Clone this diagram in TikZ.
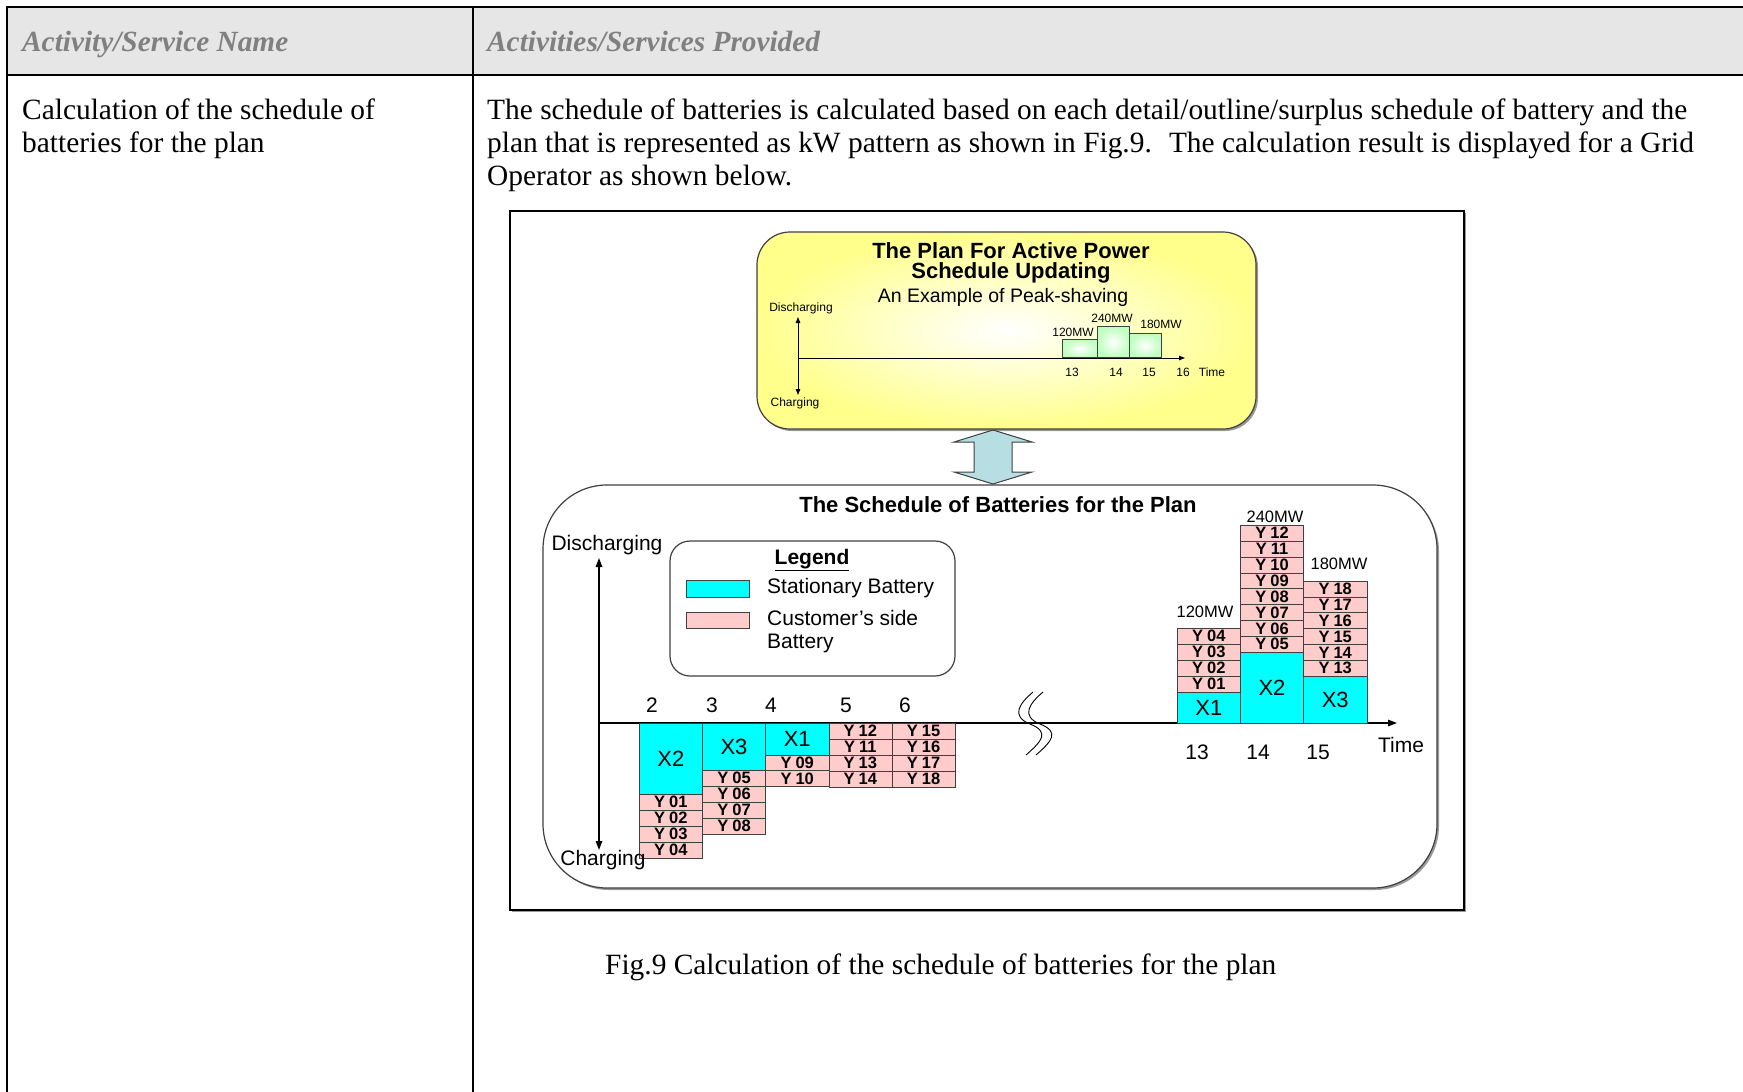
\documentclass[tikz,border=0pt]{standalone}
\usepackage{fontspec}
\setmainfont{Liberation Serif}
\setsansfont{Liberation Sans}
\usepackage{xcolor}
\usepackage{tikz}
\usetikzlibrary{arrows.meta, shadows}
\definecolor{hdrfill}{HTML}{E6E6E6}
\definecolor{hdrtext}{HTML}{808080}
\definecolor{boxline}{HTML}{404040}
\definecolor{stcyan}{HTML}{00FFFF}
\definecolor{cspink}{HTML}{FFCCCC}
\definecolor{planyel}{HTML}{FFFF8C}
\definecolor{bargreen}{HTML}{BFFFBF}
\definecolor{arrblue}{HTML}{B7DEE3}
\begin{document}
\begin{tikzpicture}[x=1pt, y=-1pt,
    tbl/.style={line width=2.6pt},
    hd/.style={anchor=base west, inner sep=0, text=hdrtext, font=\fontsize{29.3}{33}\selectfont\bfseries\itshape},
    bd/.style={anchor=base west, inner sep=0, font=\fontsize{29.4}{33}\selectfont},
    rbox/.style={draw=boxline, line width=1.2pt, inner sep=0},
    ax/.style={line width=1.3pt},
    st/.style={draw=boxline, fill=stcyan, minimum width=63.2pt, inner sep=0, anchor=north west, font=\sffamily\fontsize{22}{22}\selectfont},
    cu/.style={draw=boxline, fill=cspink, minimum width=63.2pt, minimum height=15.9pt, inner sep=0, anchor=north west, font=\sffamily\bfseries\fontsize{16.5}{16.5}\selectfont},
    lb/.style={inner sep=0, font=\sffamily\fontsize{21}{21}\selectfont},
    sm/.style={inner sep=0, font=\sffamily\fontsize{12}{12}\selectfont},
    mw/.style={inner sep=0, font=\sffamily\fontsize{16.5}{16.5}\selectfont},
    bar/.style={draw=boxline, line width=0.8pt, inner sep=0, anchor=south west, inner color=white, outer color=bargreen},
    shd/.style={drop shadow={shadow xshift=2pt, shadow yshift=-2pt, fill=black, opacity=0.4}}]
  \useasboundingbox (0,0) rectangle (1743,1092);
  % table
  \fill[hdrfill] (7,7) rectangle (1743,75);
  \draw[tbl] (7,7) -- (1743,7);
  \draw[tbl] (7,75) -- (1743,75);
  \draw[tbl] (7,5.7) -- (7,1092);
  \draw[tbl] (473,5.7) -- (473,1092);
  \node[hd] (h1) at (22,51) {Activity/Service Name};
  \node[hd] (h2) at (487,51) {Activities/Services Provided};
  \node[bd] (n1) at (22,119) {Calculation of the schedule of};
  \node[bd] (n2) at (22,152.3) {batteries for the plan};
  \node[bd] (t1) at (487,119) {The schedule of batteries is calculated based on each detail/outline/surplus schedule of battery and the};
  \node[bd] (t2) at (487,152.3) {plan that is represented as kW pattern as shown in Fig.9.~ The calculation result is displayed for a Grid};
  \node[bd] (t3) at (487,185.6) {Operator as shown below.};
  \node[bd] (cap) at (605,974) {Fig.9 Calculation of the schedule of batteries for the plan};
  % figure frame
  \node[draw, fill=white, line width=2pt, inner sep=0, minimum width=954pt, minimum height=699pt, shd] (fig) at (987,560.5) {};
  % the plan
  \node[rbox, rounded corners=33pt, minimum width=499pt, minimum height=197pt, inner color=white, outer color=planyel, shd] (plan) at (1006.5,330.5) {};
  \node[inner sep=0, align=center, font=\sffamily\bfseries\fontsize{22}{20}\selectfont] (ptitle) at (1011,263) {The Plan For Active Power\\Schedule Updating};
  \node[inner sep=0, font=\sffamily\fontsize{19.5}{19.5}\selectfont] (psub) at (1003,297) {An Example of Peak-shaving};
  \draw[ax, line width=1pt, {Triangle[length=6pt,width=4.5pt]}-{Triangle[length=6pt,width=4.5pt]}] (798,317) -- (798,395);
  \draw[ax, line width=1pt, -{Triangle[length=6pt,width=4.5pt]}] (798,358) -- (1185,358);
  \node[sm] (pdis) at (801,308) {Discharging};
  \node[sm] (pchg) at (795,403) {Charging};
  \node[bar, minimum width=35pt, minimum height=18pt] (b13) at (1062,358) {};
  \node[bar, minimum width=32pt, minimum height=31pt] (b14) at (1097,358) {};
  \node[bar, minimum width=32pt, minimum height=24pt] (b15) at (1129,358) {};
  \node[sm] (p120) at (1073,332) {120MW};
  \node[sm] (p240) at (1112,318) {240MW};
  \node[sm] (p180) at (1161,324) {180MW};
  \foreach \t/\x in {13/1072, 14/1116, 15/1149, 16/1183}
    \node[sm] (pt\t) at (\x,372) {\t};
  \node[sm] (ptime) at (1212,372) {Time};
  % update arrow
  \draw[draw=boxline, line width=1pt, fill=arrblue] (993,430) -- (1032,442) -- (1012,442) -- (1012,472) -- (1032,472) -- (993,484)
    -- (954,472) -- (974,472) -- (974,442) -- (954,442) -- cycle;
  % the schedule
  \node[rbox, fill=white, rounded corners=64pt, minimum width=894pt, minimum height=403pt, shd] (sched) at (990,686.5) {};
  \node[inner sep=0, font=\sffamily\bfseries\fontsize{22}{22}\selectfont] (stitle) at (998,505) {The Schedule of Batteries for the Plan};
  \draw[ax, {Triangle[length=9pt,width=6.5pt]}-{Triangle[length=9pt,width=6.5pt]}] (599,558) -- (599,850);
  \draw[ax, -{Triangle[length=9pt,width=6.5pt]}] (599,723) -- (1397,723);
  \node[lb] (sdis) at (607,545) {Discharging};
  \node[lb] (stime) at (1401,745) {Time};
  % legend
  \node[rbox, rounded corners=20pt, minimum width=285pt, minimum height=135pt] (leg) at (812.5,608.5) {};
  \node[lb, font=\sffamily\bfseries\fontsize{21}{21}\selectfont] (legt) at (812,560) {\underline{Legend}};
  \draw[draw=boxline, fill=stcyan] (686,580) rectangle (749,597);
  \draw[draw=boxline, fill=cspink] (686,612) rectangle (749,628);
  \node[lb, anchor=west] (legst) at (767,588) {Stationary Battery};
  \node[lb, anchor=west] (legcu) at (767,618) {Customer’s side};
  \node[lb, anchor=west] (legcu2) at (767,643) {Battery};
  % time ticks
  \foreach \t/\x in {2/652, 3/712, 4/771, 5/846, 6/905}
    \node[lb] (tk\t) at (\x,705) {\t};
  \foreach \t/\x in {13/1197, 14/1258, 15/1318}
    \node[lb] (tk\t) at (\x,752) {\t};
  % axis break
  \foreach \d in {0,10}
    \draw[line width=0.9pt] (1033+\d,692) .. controls (1020+\d,703) and (1010+\d,716) .. (1030+\d,724)
      .. controls (1050+\d,732) and (1042+\d,741) .. (1026+\d,755);
  % charging side
  \node[st, minimum height=71pt] (lx2) at (639,723) {X2};
  \node[st, minimum height=47pt] (lx3) at (702.2,723) {X3};
  \node[st, minimum height=31.5pt] (lx1) at (765.4,723) {X1};
  \foreach \i/\n in {0/01,1/02,2/03,3/04}
    \node[cu] (ly\n) at (639,{794+\i*15.9}) {Y\hspace{4pt}\n};
  \foreach \i/\n in {0/05,1/06,2/07,3/08}
    \node[cu] (ly\n) at (702.2,{770+\i*15.9}) {Y\hspace{4pt}\n};
  \foreach \i/\n in {0/09,1/10}
    \node[cu] (ly\n) at (765.4,{754.5+\i*15.9}) {Y\hspace{4pt}\n};
  \foreach \i/\n in {0/12,1/11,2/13,3/14}
    \node[cu] (ly\n) at (828.6,{723+\i*15.9}) {Y\hspace{4pt}\n};
  \foreach \i/\n in {0/15,1/16,2/17,3/18}
    \node[cu] (ly\n) at (891.8,{723+\i*15.9}) {Y\hspace{4pt}\n};
  \node[lb] (schg) at (603,860) {Charging};
  % discharging side
  \node[st, minimum height=31.5pt] (rx1) at (1177,691.5) {X1};
  \node[st, minimum height=71pt] (rx2) at (1240.2,652) {X2};
  \node[st, minimum height=47pt] (rx3) at (1303.4,676) {X3};
  \foreach \i/\n in {1/01,2/02,3/03,4/04}
    \node[cu] (ry\n) at (1177,{691.5-\i*15.9}) {Y\hspace{4pt}\n};
  \foreach \i/\n in {1/05,2/06,3/07,4/08,5/09,6/10,7/11,8/12}
    \node[cu] (ry\n) at (1240.2,{652-\i*15.9}) {Y\hspace{4pt}\n};
  \foreach \i/\n in {1/13,2/14,3/15,4/16,5/17,6/18}
    \node[cu] (ry\n) at (1303.4,{676-\i*15.9}) {Y\hspace{4pt}\n};
  \node[mw] (s120) at (1205,612) {120MW};
  \node[mw] (s240) at (1275,517) {240MW};
  \node[mw] (s180) at (1339,564) {180MW};
\end{tikzpicture}
\end{document}
